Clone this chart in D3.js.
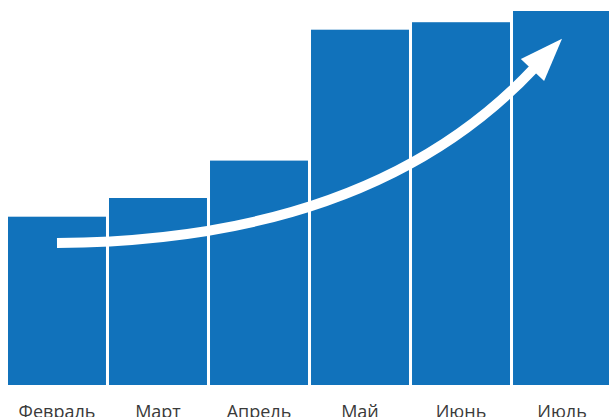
<!DOCTYPE html>
<html>
<head>
<meta charset="utf-8">
<script src="https://cdn.jsdelivr.net/npm/d3@7"></script>
<style>
  html, body { margin: 0; padding: 0; background: #fff; }
  svg { display: block; }
  .label { font-family: "Open Sans", sans-serif; font-size: 18px; fill: #3a3a3a; }
</style>
</head>
<body>
<div id="chart"></div>
<script>
// months and values
const months = ["Февраль", "Март", "Апрель", "Май", "Июнь", "Июль"];
const values = [45, 50, 60, 95, 97, 100];

const width = 609, height = 417;
const barColor = "#1172bb";

const svg = d3.select("#chart")
  .append("svg")
  .attr("width", width)
  .attr("height", height);

const x = d3.scaleBand()
  .domain(months)
  .range([8, 611])
  .paddingInner(0.03)
  .paddingOuter(0);

const y = d3.scaleLinear()
  .domain([0, 100])
  .range([385, 11]);

// bars
svg.append("g")
  .selectAll("rect")
  .data(months)
  .join("rect")
  .attr("x", d => x(d))
  .attr("y", (d, i) => y(values[i]))
  .attr("width", x.bandwidth())
  .attr("height", (d, i) => y(0) - y(values[i]))
  .attr("fill", barColor);

// month labels
svg.append("g")
  .selectAll("text")
  .data(months)
  .join("text")
  .attr("class", "label")
  .attr("x", d => x(d) + x.bandwidth() / 2)
  .attr("y", 418)
  .attr("text-anchor", "middle")
  .text(d => d);

// growth arrow, from first bar centre to last bar centre
const cx = d => x(d) + x.bandwidth() / 2;
const start = [cx("Февраль"), y(38)];
const tip = [cx("Июль"), y(92.6)];
const ang = -46.6 * Math.PI / 180;   // head direction
const headLen = 43, headHalf = 16;
const dir = [Math.cos(ang), Math.sin(ang)];
const base = [tip[0] - headLen * dir[0], tip[1] - headLen * dir[1]];
const ctrl = [base[0] - 234 * dir[0], y(38.5)];

const p = d3.path();
p.moveTo(start[0], start[1]);
p.quadraticCurveTo(ctrl[0], ctrl[1], base[0] + 2 * dir[0], base[1] + 2 * dir[1]);

svg.append("path")
  .attr("d", p.toString())
  .attr("fill", "none")
  .attr("stroke", "#fff")
  .attr("stroke-width", 10);

const nrm = [-dir[1], dir[0]];
svg.append("polygon")
  .attr("points", [
    tip,
    [base[0] + headHalf * nrm[0], base[1] + headHalf * nrm[1]],
    [base[0] - headHalf * nrm[0], base[1] - headHalf * nrm[1]]
  ].map(q => q.join(",")).join(" "))
  .attr("fill", "#fff");
</script>
</body>
</html>
